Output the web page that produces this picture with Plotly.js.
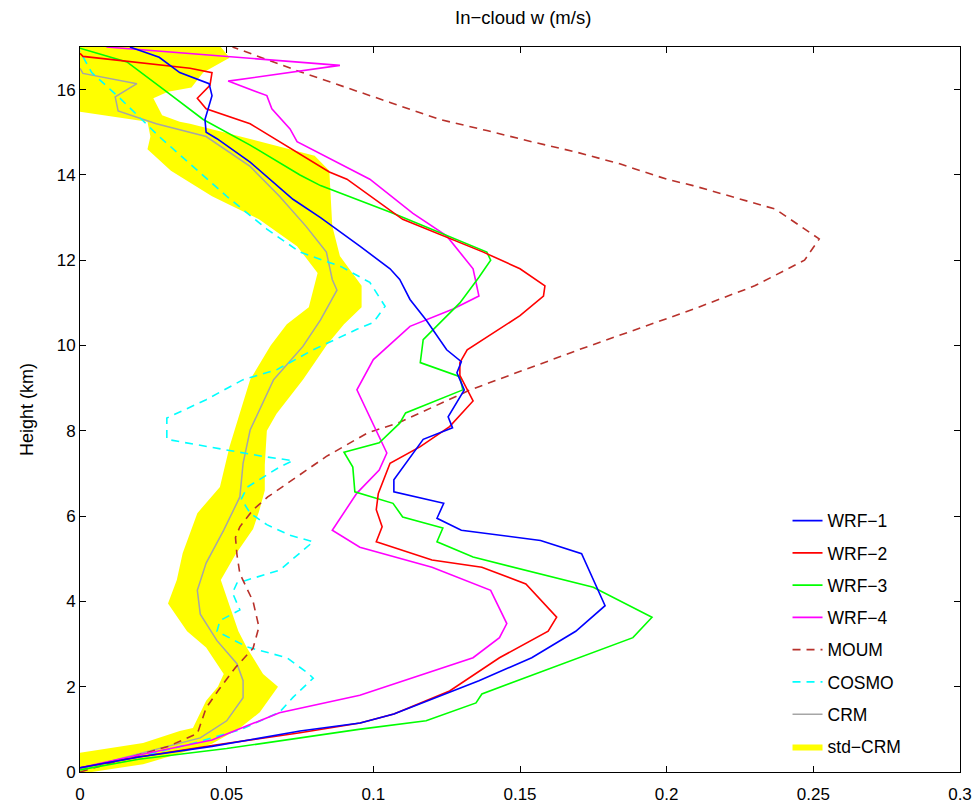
<!DOCTYPE html>
<html>
<head>
<meta charset="utf-8">
<script src="https://cdn.plot.ly/plotly-3.0.1.min.js"></script>
<style>html,body{margin:0;padding:0;background:#fff;}#chart{width:978px;height:810px;}</style>
</head>
<body>
<div id="chart"></div>
<script>
// ---- Data (w in m/s, height in km) ----
const wrf1W = [0,0.02,0.045,0.075,0.0955,0.107,0.136,0.154,0.169,0.179,0.171,0.157,0.13,0.1217,0.124,0.107,0.107,0.117,0.127,0.1255,0.131,0.1285,0.130,0.125,0.118,0.1125,0.109,0.1057,0.0954,0.082,0.0726,0.058,0.0467,0.043,0.0426,0.045,0.044,0.034,0.027,0.017];
const wrf1H = [0.1,0.35,0.6,0.96,1.15,1.36,2.14,2.68,3.3,3.9,5.12,5.43,5.67,5.95,6.3,6.57,6.85,7.8,8.07,8.33,8.96,9.36,9.62,9.9,10.6,11.08,11.55,11.8,12.33,13.0,13.43,14.3,14.85,15.0,15.3,15.86,16.14,16.4,16.76,17.0];

const wrf2W = [0,0.02,0.045,0.075,0.0955,0.107,0.126,0.143,0.1596,0.1625,0.152,0.137,0.120,0.101,0.103,0.101,0.1017,0.1057,0.116,0.126,0.134,0.132,0.1295,0.1295,0.132,0.150,0.158,0.1585,0.150,0.1375,0.110,0.091,0.085,0.058,0.043,0.040,0.0443,0.045,0.0375,0.001,0];
const wrf2H = [0.1,0.35,0.62,0.92,1.15,1.36,1.9,2.68,3.3,3.63,4.41,4.8,4.97,5.4,5.75,6.15,6.53,7.24,7.63,8.1,8.7,8.96,9.3,9.6,9.9,10.7,11.16,11.4,11.8,12.19,12.96,13.9,14.07,15.2,15.55,15.8,16.1,16.4,16.5,16.78,16.85];

const wrf3W = [0,0.02,0.05,0.075,0.095,0.118,0.135,0.137,0.1885,0.195,0.175,0.134,0.1217,0.1237,0.110,0.1067,0.0937,0.093,0.090,0.102,0.109,0.111,0.1305,0.1295,0.116,0.117,0.1295,0.136,0.140,0.1387,0.1067,0.082,0.075,0.058,0.042,0.0296,0.016,0];
const wrf3H = [0.05,0.3,0.55,0.8,1.0,1.2,1.62,1.83,3.15,3.63,4.33,5.04,5.4,5.72,5.98,6.3,6.57,7.15,7.5,7.72,8.18,8.42,8.96,9.27,9.6,10.14,11.0,11.6,12.0,12.19,13.1,13.75,14.0,14.7,15.3,15.95,16.65,16.97];

const wrf4W = [0,0.02,0.045,0.059,0.068,0.0954,0.134,0.143,0.1455,0.140,0.120,0.0954,0.086,0.0944,0.102,0.1046,0.102,0.0944,0.100,0.1125,0.127,0.136,0.134,0.125,0.1135,0.0988,0.074,0.0716,0.0654,0.0637,0.0505,0.0886,0.009];
const wrf4H = [0.1,0.4,0.75,1.13,1.39,1.8,2.68,3.15,3.48,4.26,4.8,5.27,5.67,6.54,7.08,7.48,7.86,8.96,9.67,10.45,10.85,11.16,11.8,12.57,13.1,13.9,14.78,15.08,15.55,15.86,16.2,16.57,17.0];

const moumW = [0,0.015,0.03,0.04,0.043,0.047,0.053,0.059,0.061,0.059,0.0545,0.0535,0.053,0.0545,0.059,0.064,0.0715,0.084,0.098,0.109,0.133,0.17,0.209,0.23,0.247,0.252,0.237,0.209,0.2,0.184,0.169,0.1545,0.1387,0.1227,0.1057,0.0897,0.075,0.060,0.052];
const moumH = [0,0.3,0.6,0.9,1.5,1.9,2.45,2.9,3.4,4.0,4.65,5.1,5.5,5.75,6.15,6.45,6.8,7.4,7.95,8.2,8.96,9.9,10.85,11.4,12.0,12.5,13.2,13.75,13.9,14.26,14.54,14.77,15.04,15.3,15.7,16.07,16.42,16.8,17.0];

const cosmoW = [0,0.02,0.04,0.055,0.068,0.0726,0.0795,0.078,0.0705,0.057,0.0467,0.0477,0.0545,0.052,0.0535,0.068,0.0795,0.0716,0.0637,0.058,0.055,0.057,0.068,0.0726,0.0624,0.041,0.0296,0.0296,0.043,0.0556,0.067,0.0795,0.0944,0.100,0.104,0.0988,0.089,0.075,0.0637,0.050,0.0386,0.027,0.0136,0.004,0];
const cosmoH = [0.1,0.35,0.7,1.0,1.4,1.75,2.2,2.3,2.68,2.93,3.3,3.55,3.8,4.2,4.43,4.73,5.4,5.55,5.8,6.07,6.4,6.68,7.15,7.3,7.4,7.67,7.8,8.3,8.73,9.2,9.43,9.9,10.38,10.54,10.92,11.48,11.85,12.19,12.73,13.5,14.2,14.9,15.8,16.4,16.9];

const crmW = [0,0.0215,0.041,0.050,0.0556,0.0556,0.0535,0.0467,0.041,0.040,0.043,0.049,0.0545,0.0556,0.058,0.066,0.076,0.082,0.086,0.0876,0.086,0.084,0.077,0.068,0.058,0.043,0.026,0.013,0.012,0.0194,0.001,0];
const crmH = [0.07,0.45,0.8,1.2,1.74,2.14,2.54,3.08,3.7,4.26,4.9,5.67,6.45,7.24,8.02,9.2,9.98,10.6,11.08,11.3,11.55,12.19,12.8,13.5,14.2,14.9,15.2,15.5,15.83,16.14,16.38,16.5];

// std-CRM envelope: left edge (bottom -> top) and right edge (top -> bottom)
const stdLoW = [0,0,0.0215,0.034,0.0385,0.043,0.047,0.049,0.043,0.0365,0.030,0.033,0.035,0.040,0.0477,0.051,0.0545,0.058,0.065,0.0705,0.078,0.081,0.074,0.061,0.045,0.031,0.023,0.024,0.023,0,0];
const stdLoH = [0,0.45,0.68,0.96,1.03,1.67,2.0,2.3,2.92,3.3,3.95,4.5,5.13,6.07,6.68,7.63,8.42,9.2,10.0,10.5,10.9,11.7,12.33,12.96,13.5,14.1,14.6,14.9,15.25,15.48,17];
const stdHiW = [0.048,0.051,0.042,0.038,0.030,0.025,0.028,0.034,0.0375,0.049,0.066,0.080,0.085,0.086,0.0886,0.096,0.096,0.090,0.084,0.076,0.067,0.0637,0.063,0.063,0.061,0.059,0.053,0.048,0.051,0.054,0.057,0.0624,0.0675,0.0613,0.0545,0.045,0.0215,0.004];
const stdHiH = [17,16.75,16.4,16.05,15.95,15.8,15.4,15.25,15.2,15.0,14.7,14.45,14.1,12.8,12.1,11.4,10.9,10.5,10.0,9.2,8.4,8.0,7.2,6.6,6.1,5.7,5.1,4.5,3.9,3.3,2.9,2.3,2.0,1.4,1.03,0.66,0.18,0];

const xTicks = [0,0.05,0.1,0.15,0.2,0.25,0.3];
const xTickText = ['0','0.05','0.1','0.15','0.2','0.25','0.3'];
const yTicks = [0,2,4,6,8,10,12,14,16];

const lw = 1.6;
const traces = [
  {x: stdLoW.concat(stdHiW), y: stdLoH.concat(stdHiH), name: 'std\u2212CRM', type: 'scatter', mode: 'lines',
   fill: 'toself', fillcolor: '#ffff00', line: {width: 0, color: '#ffff00'}, legendrank: 8, legendgroup: 'g8'},
  {x: crmW, y: crmH, name: 'CRM', mode: 'lines', line: {color: '#a6a6a6', width: 1.5}, legendrank: 7, legendgroup: 'g7'},
  {x: cosmoW, y: cosmoH, name: 'COSMO', mode: 'lines', line: {color: '#00ffff', width: lw, dash: '8px,6px'}, legendrank: 6, legendgroup: 'g6'},
  {x: moumW, y: moumH, name: 'MOUM', mode: 'lines', line: {color: '#b8312b', width: lw, dash: '8px,6px'}, legendrank: 5, legendgroup: 'g5'},
  {x: wrf4W, y: wrf4H, name: 'WRF\u22124', mode: 'lines', line: {color: '#ff00ff', width: lw}, legendrank: 4, legendgroup: 'g4'},
  {x: wrf3W, y: wrf3H, name: 'WRF\u22123', mode: 'lines', line: {color: '#00ff00', width: lw}, legendrank: 3, legendgroup: 'g3'},
  {x: wrf2W, y: wrf2H, name: 'WRF\u22122', mode: 'lines', line: {color: '#ff0000', width: lw}, legendrank: 2, legendgroup: 'g2'},
  {x: wrf1W, y: wrf1H, name: 'WRF\u22121', mode: 'lines', line: {color: '#0000ff', width: lw}, legendrank: 1, legendgroup: 'g1'}
];

const fontFam = 'Liberation Sans, Arial, sans-serif';
const axisCommon = {
  showgrid: false, zeroline: false, showline: true, linecolor: '#000', linewidth: 1,
  mirror: 'allticks', ticks: 'inside', ticklen: 6, tickcolor: '#000', tickwidth: 1,
  tickfont: {family: fontFam, size: 17, color: '#000'}
};

const layout = {
  width: 978, height: 810,
  margin: {l: 80, r: 18, t: 47, b: 38},
  paper_bgcolor: '#fff', plot_bgcolor: '#fff',
  showlegend: true,
  title: {text: 'In\u2212cloud w (m/s)', x: 0.535, xanchor: 'center', y: 0.978, yanchor: 'middle',
          font: {family: fontFam, size: 18.5, color: '#000'}},
  xaxis: Object.assign({}, axisCommon, {range: [0, 0.3], tickvals: xTicks, ticktext: xTickText, ticklabelstandoff: 7}),
  yaxis: Object.assign({}, axisCommon, {range: [0, 17], tickvals: yTicks,
          title: {text: 'Height (km)', standoff: 18, font: {family: fontFam, size: 18, color: '#000'}}}),
  legend: {x: 0.804, y: 0.01, xanchor: 'left', yanchor: 'bottom', bgcolor: 'rgba(255,255,255,0)',
           borderwidth: 0, font: {family: fontFam, size: 17.5, color: '#000'},
           traceorder: 'grouped', tracegroupgap: 6.5}
};

Plotly.newPlot('chart', traces, layout, {displayModeBar: false, staticPlot: true});
</script>
</body>
</html>
